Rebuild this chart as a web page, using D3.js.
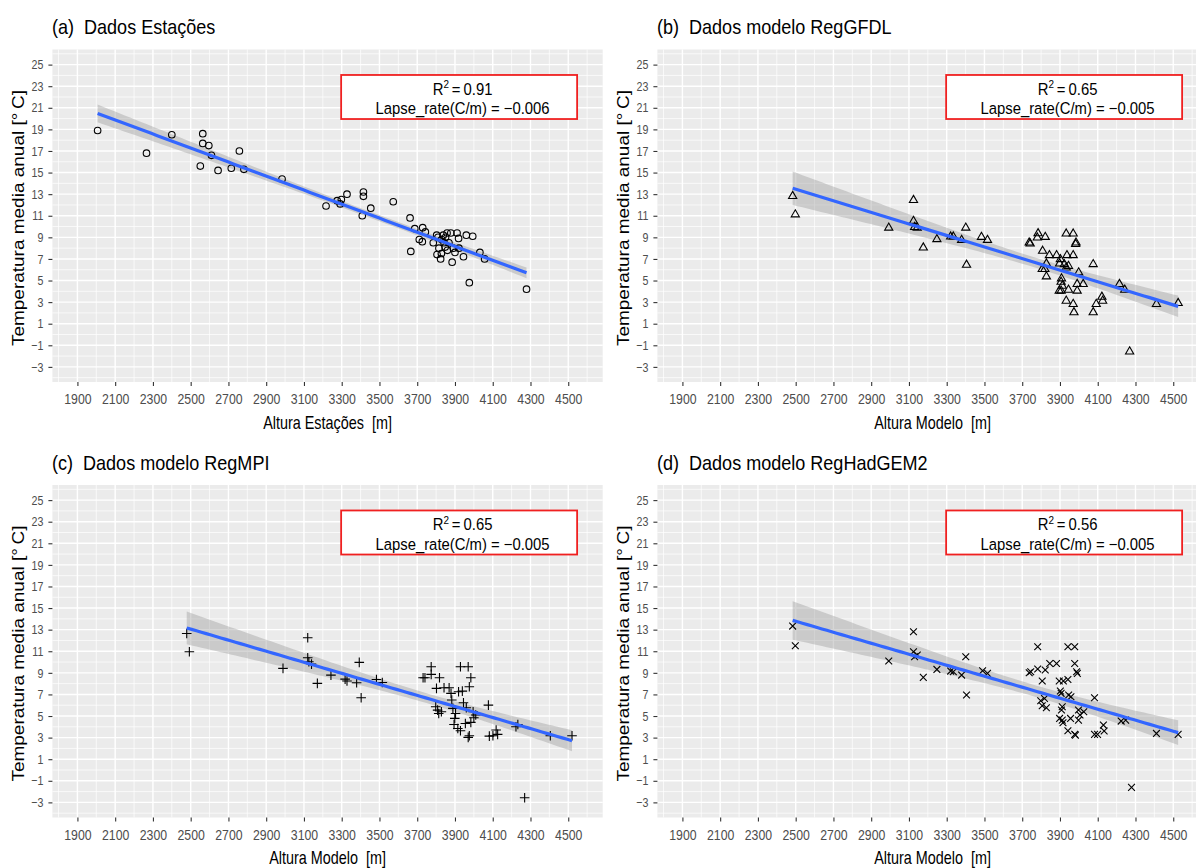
<!DOCTYPE html>
<html>
<head>
<meta charset="utf-8">
<script src="https://cdn.jsdelivr.net/npm/d3@7"></script>
<style>
  body { margin: 0; background: #fff; }
  svg { display: block; }
  text { font-family: "Liberation Sans", Arial, sans-serif; white-space: pre; }
</style>
</head>
<body>
<svg id="chart" width="1196" height="868"></svg>
<script>
// axis settings (limits before ggplot's 5% expansion)
const X_LIMITS = [1900, 4550];
const Y_LIMITS = [-3, 25];
const X_TICKS = [1900, 2100, 2300, 2500, 2700, 2900, 3100, 3300, 3500, 3700, 3900, 4100, 4300, 4500];
const Y_TICKS = [-3, -1, 1, 3, 5, 7, 9, 11, 13, 15, 17, 19, 21, 23, 25];

const TITLES = ["(a)  Dados Estações", "(b)  Dados modelo RegGFDL", "(c)  Dados modelo RegMPI", "(d)  Dados modelo RegHadGEM2"];
const X_TITLES = ["Altura Estações  [m]", "Altura Modelo  [m]", "Altura Modelo  [m]", "Altura Modelo  [m]"];
const Y_TITLE = "Temperatura media anual [°\u2009C]";
const R2_LABELS = ["0.91", "0.65", "0.65", "0.56"];
const LAPSE_LABELS = ["\u22120.006", "\u22120.005", "\u22120.005", "\u22120.005"];
const SHAPES = ["circle", "triangle", "plus", "cross"];

// (a) stations: altitude [m], annual mean temperature [°C]
const estacoesAlt = [2007, 2266, 2400, 2564, 2564, 2596, 2610, 2551, 2645, 2715, 2758, 2782, 2984, 3217, 3276, 3292, 3298, 3328, 3415, 3415, 3454, 3573, 3409,
  3662, 3687, 3729, 3743, 3711, 3727, 3666, 3785, 3803, 3805, 3824, 3828, 3838, 3848, 3858, 3868, 3878, 3891, 3885, 3911, 3919, 3921, 3945, 3960, 3994, 3976,
  4032, 4057, 4279, 3842, 3815, 3830, 3860, 3900, 3850, 3810];
const estacoesTemp = [18.9, 16.8, 18.5, 18.6, 17.7, 17.5, 16.6, 15.6, 15.2, 15.4, 17.0, 15.3, 14.4, 11.9, 12.4, 12.1, 12.5, 13.0, 13.2, 12.8, 11.7, 12.3, 11.0,
  10.8, 9.8, 9.9, 9.5, 8.8, 8.6, 7.7, 8.5, 9.2, 7.4, 7.0, 7.5, 9.2, 8.1, 9.4, 8.5, 9.4, 8.0, 6.7, 9.4, 8.9, 8.0, 7.2, 9.2, 9.1, 4.8,
  7.6, 7.0, 4.2, 8.5, 8.0, 8.8, 7.8, 7.6, 9.0, 9.0];

// (b) RegGFDL
const gfdlAlt = [2484, 2498, 2993, 3124, 3124, 3130, 3144, 3176, 3248, 3321, 3335, 3379, 3401, 3405, 3484, 3516, 3737, 3742, 3780, 3784, 3822, 3808, 3844,
  3828, 3806, 3820, 3828, 3882, 3902, 3898, 3908, 3906, 3912, 3906, 3896, 3933, 3970, 3937, 3970, 3923, 3945, 3933, 3985, 3983, 3999, 3991, 4023, 3945,
  3991, 3933, 3970, 3974, 4076, 4076, 4092, 4122, 4126, 4215, 4243, 4269, 4411, 4526];
const gfdlTemp = [12.85, 11.15, 9.92, 12.48, 10.54, 9.98, 9.92, 8.08, 8.85, 9.09, 9.09, 8.78, 9.92, 6.48, 9.06, 8.78, 8.54, 8.45, 9.0, 9.4, 9.06, 7.77, 7.37,
  6.6, 6.08, 6.08, 5.4, 7.37, 7.0, 6.6, 5.22, 4.9, 4.54, 4.08, 4.08, 9.37, 9.37, 7.37, 7.37, 6.54, 6.38, 6.23, 8.54, 8.4, 5.77, 4.7, 4.7, 4.17,
  4.08, 3.15, 2.85, 2.08, 6.54, 2.08, 2.85, 3.52, 3.15, 4.7, 4.17, -1.55, 2.85, 2.94];

// (c) RegMPI
const mpiAlt = [2479, 2493, 2989, 3120, 3120, 3126, 3140, 3171, 3243, 3318, 3328, 3379, 3393, 3403, 3484, 3515, 3731, 3741, 3774, 3774, 3802, 3818, 3842,
  3869, 3879, 3883, 3889, 3798, 3808, 3814, 3828, 3903, 3899, 3895, 3915, 3929, 3919, 3939, 3929, 3970, 3976, 3984, 3945, 3960, 3955, 3984, 4000, 4010,
  3996, 3976, 3970, 4077, 4082, 4101, 4118, 4126, 4223, 4233, 4405, 4520, 4269];
const mpiTemp = [12.65, 10.96, 9.41, 12.25, 10.4, 10.03, 9.81, 8.02, 8.79, 8.42, 8.24, 8.08, 9.97, 6.69, 8.39, 8.11, 8.55, 8.55, 9.57, 8.86, 7.56, 8.55, 7.62,
  7.62, 7.1, 6.48, 5.71, 5.86, 5.55, 5.24, 5.4, 5.24, 4.78, 4.22, 3.85, 3.64, 7.25, 7.31, 9.57, 9.57, 7.71, 8.55, 6.23, 5.77, 4.31, 4.41, 4.84, 5.09,
  5.4, 3.17, 3.02, 6.01, 3.14, 3.17, 3.7, 3.3, 4.01, 4.22, 3.17, 3.17, -2.57];

// (d) RegHadGEM2
const hadAlt = [2484, 2498, 2993, 3124, 3124, 3130, 3144, 3176, 3248, 3321, 3335, 3379, 3401, 3405, 3490, 3516, 3737, 3745, 3782, 3782, 3822, 3846, 3882,
  3806, 3798, 3806, 3818, 3828, 3896, 3918, 3942, 3902, 3906, 3912, 3908, 3898, 3912, 3916, 3942, 3978, 3978, 3988, 3992, 3946, 3958, 3956, 3942, 3978,
  3982, 3998, 4006, 3998, 4026, 4083, 4083, 4099, 4130, 4134, 4224, 4248, 4279, 4411, 4526];
const hadTemp = [13.33, 11.51, 10.09, 12.81, 10.96, 10.49, 10.65, 8.58, 9.32, 9.16, 9.1, 8.79, 10.49, 6.94, 9.19, 8.95, 9.01, 9.1, 11.42, 9.35, 9.26, 9.87, 9.87,
  8.24, 6.42, 5.95, 6.63, 5.77, 8.24, 8.24, 8.39, 7.31, 7.1, 5.86, 5.55, 4.78, 4.62, 4.38, 11.42, 11.42, 9.87, 9.1, 8.95, 6.94, 6.79, 4.78, 3.64, 3.3,
  3.23, 5.55, 5.09, 4.62, 5.4, 6.69, 3.3, 3.3, 4.16, 3.61, 4.53, 4.62, -1.61, 3.39, 3.3];

const SERIES = [
  {alt: estacoesAlt, temp: estacoesTemp},
  {alt: gfdlAlt, temp: gfdlTemp},
  {alt: mpiAlt, temp: mpiTemp},
  {alt: hadAlt, temp: hadTemp}
];

// layout
const COL_W = 605, ROW_H = 435.5;
const PANEL = {left: 52.4, right: 602.7, top: 49.5, bottom: 382};
const SQUEEZE = 0.82;

const expand = (lim) => {
  const pad = (lim[1] - lim[0]) * 0.05;
  return [lim[0] - pad, lim[1] + pad];
};
const xDomain = expand(X_LIMITS);
const yDomain = expand(Y_LIMITS);

const MARKERS = {
  circle: d3.symbol(d3.symbolCircle, 34)(),
  triangle: "M0,-4.4L4.1,2.7L-4.1,2.7Z",
  plus: "M-4.8,0H4.8M0,-4.8V4.8",
  cross: "M-3.4,-3.4L3.4,3.4M-3.4,3.4L3.4,-3.4"
};

// least squares fit + 95% confidence band, like geom_smooth(method = "lm")
const linearFit = (xs, ys) => {
  const n = xs.length;
  const mx = d3.mean(xs), my = d3.mean(ys);
  let sxx = 0, sxy = 0;
  xs.forEach((xv, i) => {
    sxx += (xv - mx) ** 2;
    sxy += (xv - mx) * (ys[i] - my);
  });
  const slope = sxy / sxx;
  const icpt = my - slope * mx;
  const sse = d3.sum(xs, (xv, i) => (ys[i] - icpt - slope * xv) ** 2);
  const s = Math.sqrt(sse / (n - 2));
  const t = 2.0;
  const [x0, x1] = d3.extent(xs);
  return d3.range(80).map(k => {
    const xv = x0 + (x1 - x0) * k / 79;
    const fitted = icpt + slope * xv;
    const se = s * Math.sqrt(1 / n + (xv - mx) ** 2 / sxx);
    return {x: xv, y: fitted, lo: fitted - t * se, hi: fitted + t * se};
  });
};

const svg = d3.select("#chart");

SERIES.forEach((series, i) => {
  const ox = (i % 2) * COL_W;
  const oy = Math.floor(i / 2) * ROW_H;
  const g = svg.append("g").attr("transform", `translate(${ox},${oy})`);

  const x = d3.scaleLinear().domain(xDomain).range([PANEL.left, PANEL.right]);
  const y = d3.scaleLinear().domain(yDomain).range([PANEL.bottom, PANEL.top]);

  g.append("rect")
    .attr("x", PANEL.left).attr("y", PANEL.top)
    .attr("width", PANEL.right - PANEL.left)
    .attr("height", PANEL.bottom - PANEL.top)
    .attr("fill", "#EBEBEB");

  const xMinor = d3.range(X_TICKS[0] - 100, xDomain[1], 200).filter(v => v > xDomain[0]);
  const yMinor = d3.range(Y_TICKS[0] - 1, yDomain[1], 2).filter(v => v > yDomain[0]);

  const grid = g.append("g").attr("stroke", "#fff").attr("fill", "none");
  grid.selectAll(".vminor").data(xMinor).enter().append("line")
    .attr("x1", d => x(d)).attr("x2", d => x(d))
    .attr("y1", PANEL.top).attr("y2", PANEL.bottom)
    .attr("stroke-width", 0.7);
  grid.selectAll(".hminor").data(yMinor).enter().append("line")
    .attr("y1", d => y(d)).attr("y2", d => y(d))
    .attr("x1", PANEL.left).attr("x2", PANEL.right)
    .attr("stroke-width", 0.7);
  grid.selectAll(".vmajor").data(X_TICKS).enter().append("line")
    .attr("x1", d => x(d)).attr("x2", d => x(d))
    .attr("y1", PANEL.top).attr("y2", PANEL.bottom)
    .attr("stroke-width", 1.4);
  grid.selectAll(".hmajor").data(Y_TICKS).enter().append("line")
    .attr("y1", d => y(d)).attr("y2", d => y(d))
    .attr("x1", PANEL.left).attr("x2", PANEL.right)
    .attr("stroke-width", 1.4);

  const fitted = linearFit(series.alt, series.temp);

  g.append("path")
    .datum(fitted)
    .attr("fill", "#999999")
    .attr("fill-opacity", 0.4)
    .attr("d", d3.area().x(d => x(d.x)).y0(d => y(d.lo)).y1(d => y(d.hi)));

  const points = series.alt.map((a, k) => ({alt: a, temp: series.temp[k]}));
  g.append("g")
    .selectAll("path")
    .data(points)
    .enter()
    .append("path")
    .attr("transform", d => `translate(${x(d.alt)},${y(d.temp)})`)
    .attr("d", MARKERS[SHAPES[i]])
    .attr("fill", "none")
    .attr("stroke", "#000")
    .attr("stroke-width", 1.1);

  g.append("path")
    .datum(fitted)
    .attr("fill", "none")
    .attr("stroke", "#3366FF")
    .attr("stroke-width", 3.2)
    .attr("d", d3.line().x(d => x(d.x)).y(d => y(d.y)));

  // annotation box
  g.append("rect")
    .attr("x", x(3297)).attr("y", y(24.04))
    .attr("width", x(4547) - x(3297))
    .attr("height", y(19.96) - y(24.04))
    .attr("fill", "#fff")
    .attr("stroke", "#F02020")
    .attr("stroke-width", 1.8);

  const r2 = g.append("text")
    .attr("transform", `translate(${x(3940)},${y(22.19)}) scale(0.9,1)`)
    .attr("text-anchor", "middle")
    .attr("font-size", 16.5)
    .attr("fill", "#000");
  r2.append("tspan").text("R");
  r2.append("tspan").attr("dy", -6.5).attr("font-size", 11).text("2");
  r2.append("tspan").attr("dy", 6.5).text("\u2009=\u20090" + R2_LABELS[i].slice(1));

  g.append("text")
    .attr("transform", `translate(${x(3940)},${y(20.4)}) scale(0.9,1)`)
    .attr("text-anchor", "middle")
    .attr("font-size", 16.5)
    .attr("fill", "#000")
    .text("Lapse_rate(C/m) = " + LAPSE_LABELS[i]);

  // axes
  const xAxis = g.append("g")
    .attr("transform", `translate(0,${PANEL.bottom})`)
    .call(d3.axisBottom(x).tickValues(X_TICKS).tickSize(4).tickSizeOuter(0).tickFormat(d3.format("d")));
  xAxis.select(".domain").remove();
  xAxis.selectAll(".tick line").attr("stroke", "#333").attr("stroke-width", 1.1);
  xAxis.selectAll(".tick text")
    .attr("y", null).attr("dy", null)
    .attr("transform", `translate(0,22) scale(${SQUEEZE},1)`)
    .attr("font-size", 15)
    .attr("font-family", "Liberation Sans, Arial, sans-serif")
    .attr("fill", "#4D4D4D");

  const yAxis = g.append("g")
    .attr("transform", `translate(${PANEL.left},0)`)
    .call(d3.axisLeft(y).tickValues(Y_TICKS).tickSize(4).tickSizeOuter(0));
  yAxis.select(".domain").remove();
  yAxis.selectAll(".tick line").attr("stroke", "#333").attr("stroke-width", 1.1);
  yAxis.selectAll(".tick text")
    .attr("x", null)
    .attr("transform", `translate(-9,0) scale(${SQUEEZE},1)`)
    .attr("font-size", 13)
    .attr("font-family", "Liberation Sans, Arial, sans-serif")
    .attr("fill", "#4D4D4D");

  // titles
  g.append("text")
    .attr("transform", `translate(52,34) scale(0.88,1)`)
    .attr("font-size", 20.5)
    .attr("fill", "#000")
    .text(TITLES[i]);

  g.append("text")
    .attr("transform", `translate(${(PANEL.left + PANEL.right) / 2},428.5) scale(0.8,1)`)
    .attr("text-anchor", "middle")
    .attr("font-size", 18)
    .attr("fill", "#000")
    .text(X_TITLES[i]);

  g.append("text")
    .attr("transform", `translate(23.5,218) scale(${SQUEEZE},1) rotate(-90)`)
    .attr("text-anchor", "middle")
    .attr("font-size", 19)
    .attr("fill", "#000")
    .text(Y_TITLE);
});
</script>
</body>
</html>
